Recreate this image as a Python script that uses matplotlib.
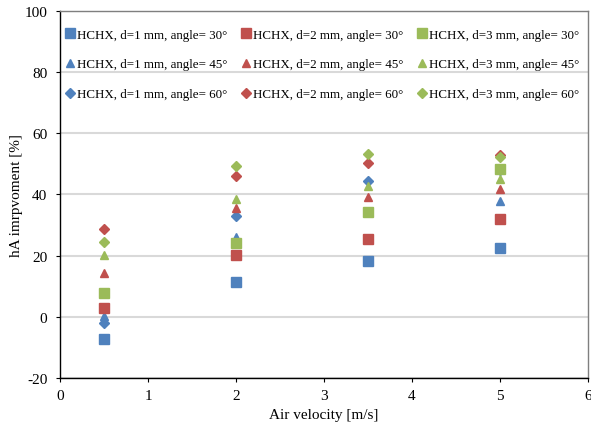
import matplotlib.pyplot as plt
import numpy as np

plt.rcParams['font.family'] = ['Liberation Serif', 'DejaVu Serif']
plt.rcParams['axes.unicode_minus'] = False

# air velocity [m/s]
velocity = [0.5, 2, 3.5, 5]

# hA improvement [%] per diameter / angle
d1_a30 = [-7.1, 11.5, 18.2, 22.4]
d1_a45 = [0.4, 26.1, 34.4, 37.8]
d1_a60 = [-2.0, 32.9, 44.3, 47.8]
d2_a30 = [3.0, 20.1, 25.5, 31.8]
d2_a45 = [14.2, 35.6, 39.1, 41.6]
d2_a60 = [28.8, 45.9, 50.3, 52.9]
d3_a30 = [7.8, 24.0, 34.3, 48.3]
d3_a45 = [20.1, 38.5, 42.6, 45.0]
d3_a60 = [24.3, 49.1, 53.2, 52.3]

blue = '#4F81BD'
red = '#C0504D'
green = '#9BBB59'

series = [
    (d1_a30, blue, 's', 7, 'HCHX, d=1 mm, angle= 30°'),
    (d1_a45, blue, '^', 6, 'HCHX, d=1 mm, angle= 45°'),
    (d1_a60, blue, 'D', 5, 'HCHX, d=1 mm, angle= 60°'),
    (d2_a30, red, 's', 7, 'HCHX, d=2 mm, angle= 30°'),
    (d2_a45, red, '^', 6, 'HCHX, d=2 mm, angle= 45°'),
    (d2_a60, red, 'D', 5, 'HCHX, d=2 mm, angle= 60°'),
    (d3_a30, green, 's', 7, 'HCHX, d=3 mm, angle= 30°'),
    (d3_a45, green, '^', 6, 'HCHX, d=3 mm, angle= 45°'),
    (d3_a60, green, 'D', 5, 'HCHX, d=3 mm, angle= 60°'),
]

fig = plt.figure(figsize=(5.91, 4.31), dpi=100)
ax = fig.add_axes([0.1015, 0.1206, 0.8935, 0.8524])

for vals, col, mk, ms, lab in series:
    ax.plot(velocity, vals, linestyle='none', marker=mk, markersize=ms,
            color=col, markeredgecolor=col, label=lab)

ax.set_xlim(0, 6)
ax.set_ylim(-20, 100)
ax.set_xticks(np.arange(0, 7, 1))
ax.set_yticks(np.arange(-20, 101, 20))
ax.yaxis.grid(True, color='#d9d9d9', linewidth=1.5)
ax.set_axisbelow(True)

for s in ['left', 'bottom']:
    ax.spines[s].set_color('black')
    ax.spines[s].set_linewidth(1.0)
for s in ['top', 'right']:
    ax.spines[s].set_color('#7f7f7f')
    ax.spines[s].set_linewidth(1.0)

ax.tick_params(direction='out', length=3, width=0.8, labelsize=11, pad=5)
ax.tick_params(axis='y', pad=6)

ax.set_xlabel('Air velocity [m/s]', fontsize=11, labelpad=4)
ax.set_ylabel('hA imrpvoment [%]', fontsize=11, labelpad=1)

ax.legend(ncol=3, loc='upper left', bbox_to_anchor=(-0.011, 0.98), frameon=False,
          fontsize=9.4, handlelength=0.8, handletextpad=0.15, columnspacing=1.0,
          labelspacing=1.36, borderaxespad=0.2, borderpad=0.6)

plt.savefig('out.png', dpi=100)
